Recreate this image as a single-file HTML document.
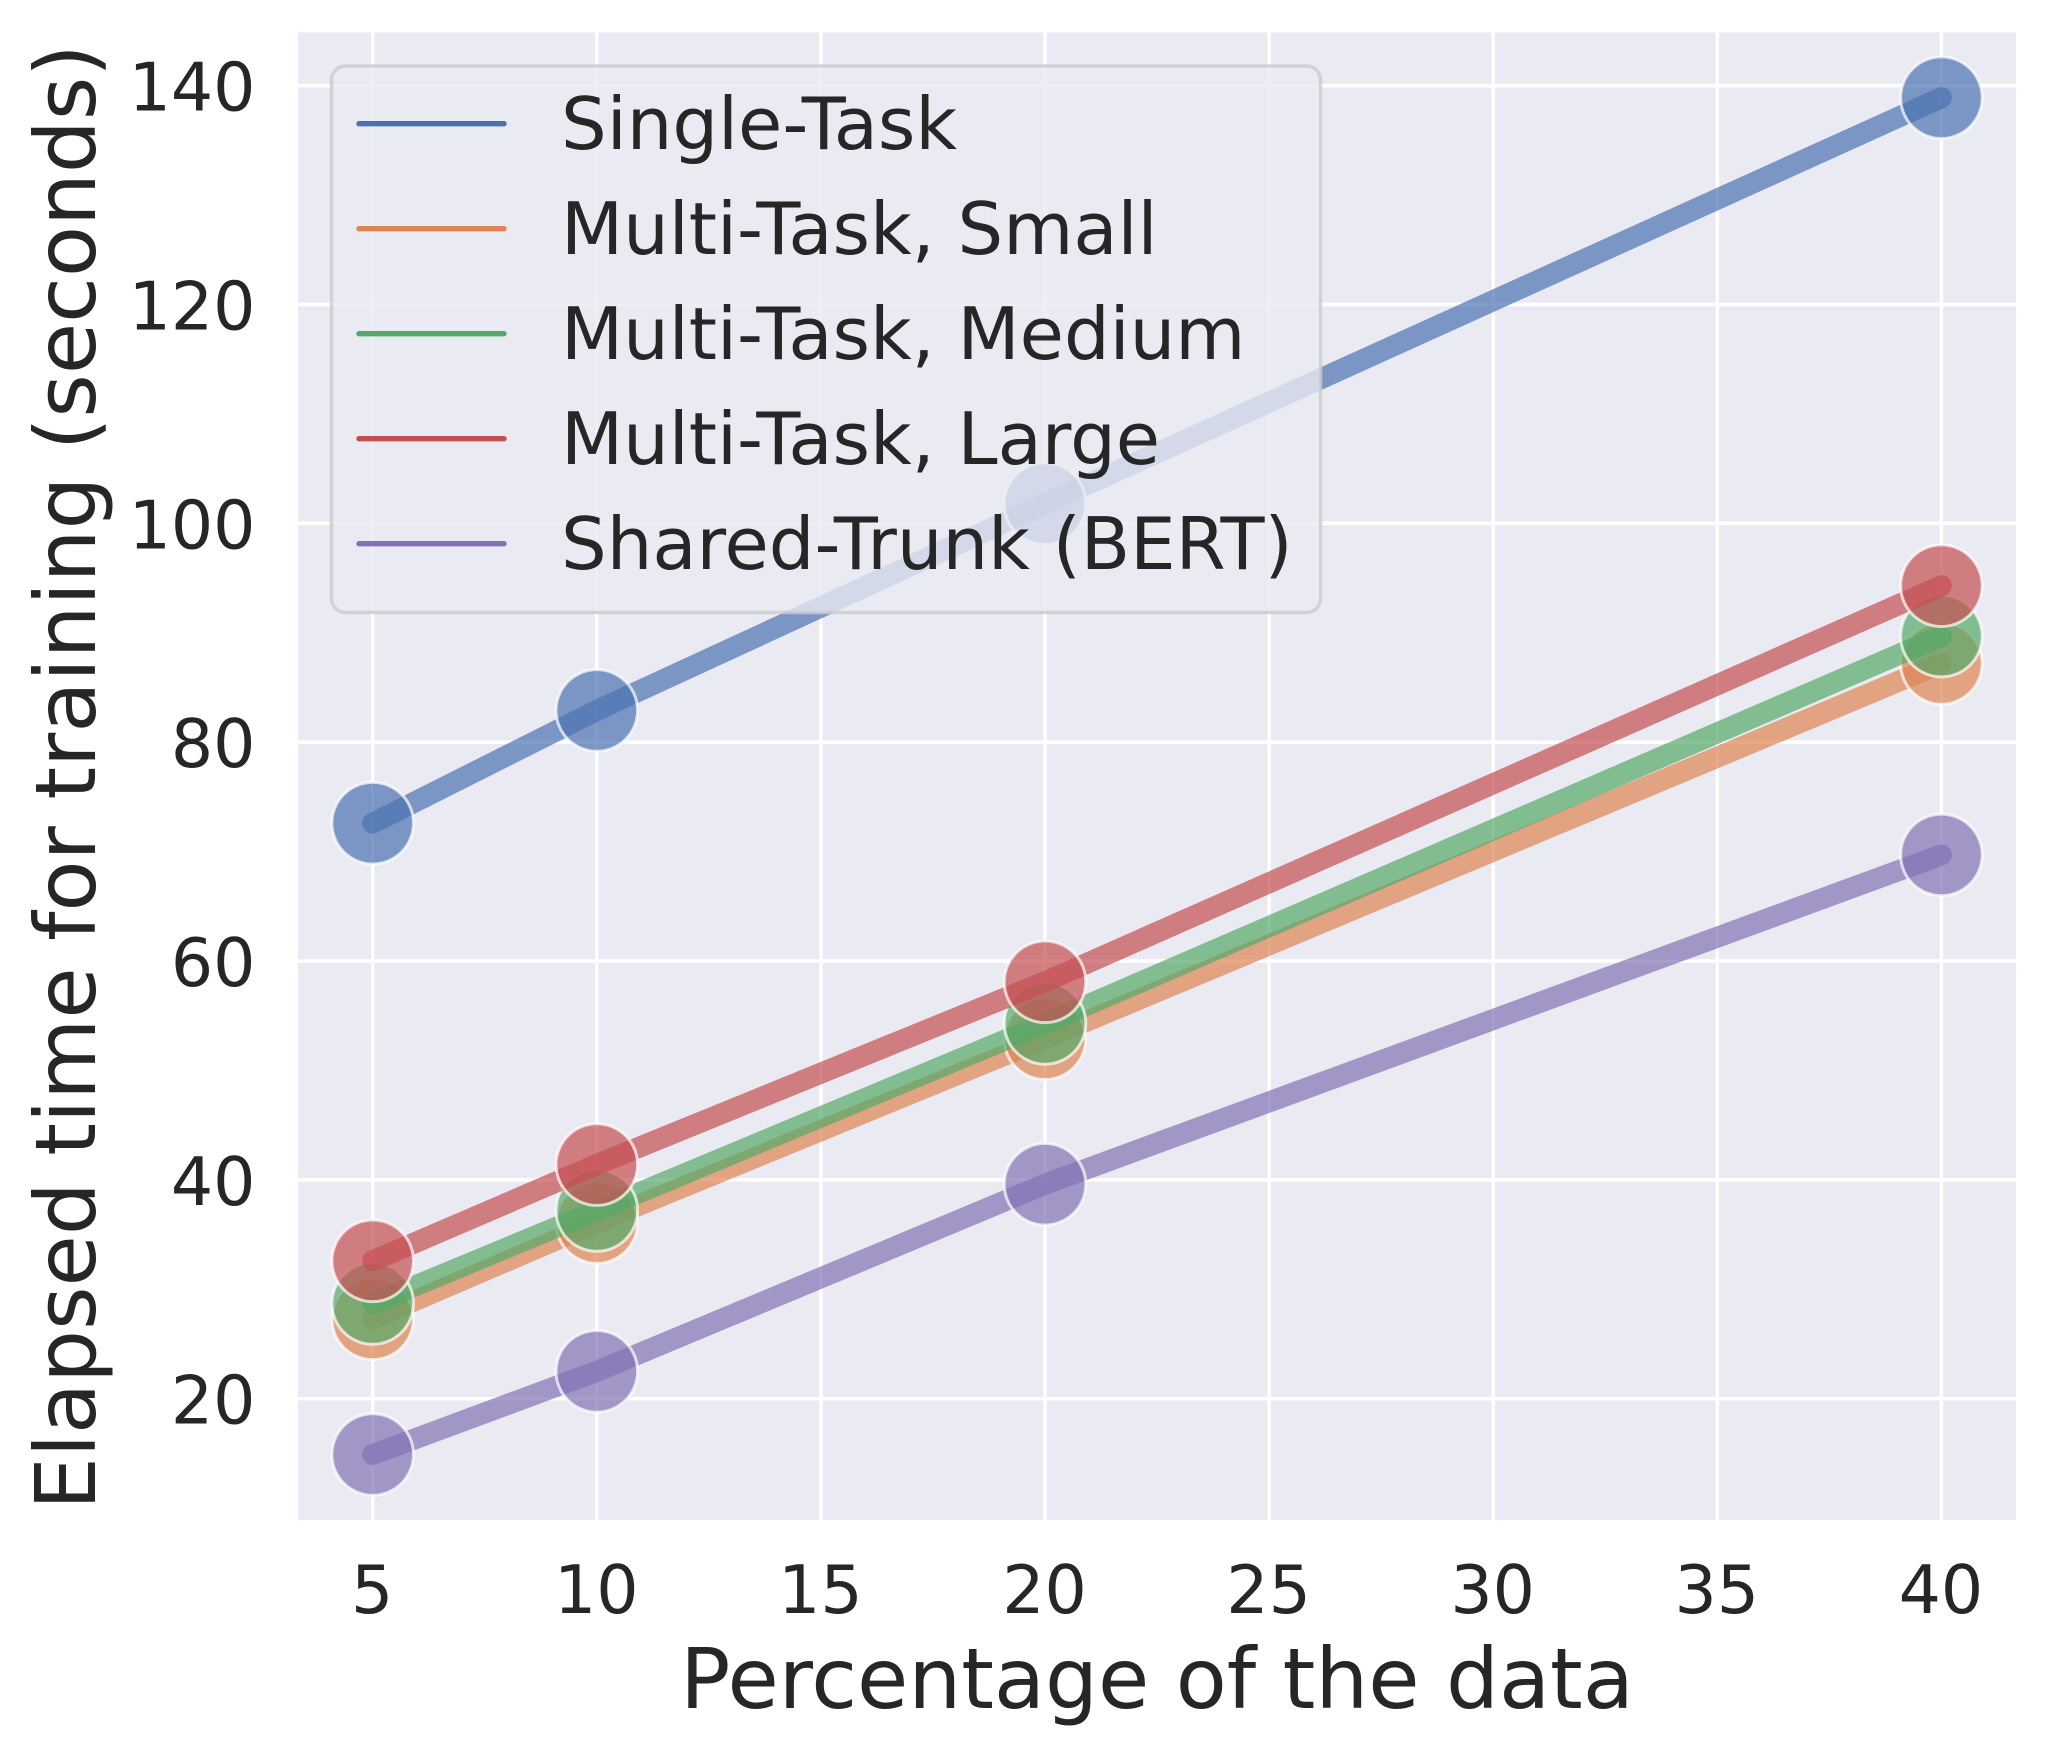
<!DOCTYPE html>
<html lang="en">
<head>
<meta charset="utf-8">
<title>Elapsed training time chart</title>
<style>
html,body{margin:0;padding:0;background:#fff;width:2048px;height:1755px;overflow:hidden}
svg{display:block}
text{font-family:"DejaVu Sans","Liberation Sans",sans-serif;fill:#262626}
</style>
</head>
<body>
<svg id="chart" xmlns="http://www.w3.org/2000/svg" width="2048" height="1755" viewBox="0 0 2048 1755">
  <rect x="0" y="0" width="2048" height="1755" fill="#ffffff"/>
  <rect x="298" y="32.5" width="1718" height="1487.5" fill="#eaeaf2"/>
  <g id="grid"></g>
  <g id="series"></g>
  <g id="xticks"></g>
  <g id="yticks"></g>
  <text x="1157" y="1708" font-size="83.4" text-anchor="middle">Percentage of the data</text>
  <text x="95" y="777" font-size="83.4" text-anchor="middle" transform="rotate(-90 95 777)">Elapsed time for training (seconds)</text>
  <g id="legend">
    <rect x="331.5" y="66" width="989" height="546.5" rx="14" ry="14" fill="#eaeaf2" fill-opacity="0.8" stroke="#cccccc" stroke-opacity="0.8" stroke-width="3.5"/>
  </g>
</svg>
<script>
const percentages = [5, 10, 20, 40];
const seriesNames = ['Single-Task', 'Multi-Task, Small', 'Multi-Task, Medium', 'Multi-Task, Large', 'Shared-Trunk (BERT)'];
const seriesColors = ['#4c72b0', '#dd8452', '#55a868', '#c44e52', '#8172b3'];
const singleTask = [72.6, 82.9, 101.8, 138.9];
const multiSmall = [27.3, 36.1, 52.9, 87.2];
const multiMedium = [28.7, 37.2, 54.3, 89.7];
const multiLarge = [32.6, 41.4, 58.1, 94.3];
const sharedTrunk = [14.9, 22.5, 39.6, 69.7];
const seriesValues = [singleTask, multiSmall, multiMedium, multiLarge, sharedTrunk];
const xTickLabels = [5, 10, 15, 20, 25, 30, 35, 40];
const yTickLabels = [20, 40, 60, 80, 100, 120, 140];

const NS = 'http://www.w3.org/2000/svg';
function xScale(v) { return 372.7 + (v - 5) * 44.82; }
function yScale(v) { return 1398.7 - (v - 20) * 10.942; }
function make(tag, attrs, parent) {
  const el = document.createElementNS(NS, tag);
  for (const k in attrs) el.setAttribute(k, attrs[k]);
  parent.appendChild(el);
  return el;
}
function slug(s) { return s.toLowerCase().replace(/[^a-z0-9]+/g, '-').replace(/-$/, ''); }

const grid = document.getElementById('grid');
const xticks = document.getElementById('xticks');
const yticks = document.getElementById('yticks');
const seriesGroup = document.getElementById('series');
const legend = document.getElementById('legend');

xTickLabels.forEach(function (t) {
  const x = xScale(t);
  const line = make('line', { x1: x, x2: x, y1: 32.5, y2: 1520, stroke: '#ffffff', 'stroke-width': 3.4 }, grid);
  
  
  const label = make('text', { x: x - 0.5, y: 1613, 'font-size': 66.5, 'text-anchor': 'middle' }, xticks);
  label.textContent = t;
  
  
});

yTickLabels.forEach(function (t) {
  const y = yScale(t);
  const line = make('line', { x1: 298, x2: 2016, y1: y, y2: y, stroke: '#ffffff', 'stroke-width': 3.6 }, grid);
  
  
  const label = make('text', { x: 255.5, y: y + 25, 'font-size': 66.5, 'text-anchor': 'end' }, yticks);
  label.textContent = t;
  
  
});

seriesNames.forEach(function (name, i) {
  const color = seriesColors[i];
  const values = seriesValues[i];
  const key = slug(name);
  const g = make('g', {}, seriesGroup);
  
  
  const pts = percentages.map(function (p, j) { return xScale(p) + ',' + yScale(values[j]); }).join(' ');
  const line = make('polyline', { points: pts, fill: 'none', stroke: color, 'stroke-opacity': 0.7, 'stroke-width': 21, 'stroke-linecap': 'round', 'stroke-linejoin': 'round' }, g);
  
  
  percentages.forEach(function (p, j) {
    const dot = make('circle', { cx: xScale(p), cy: yScale(values[j]), r: 40.8, fill: color, 'fill-opacity': 0.7, stroke: '#ffffff', 'stroke-opacity': 0.7, 'stroke-width': 3 }, g);
    
    
  });

  const rowY = 123.7 + i * 105;
  const handle = make('line', { x1: 359, x2: 504, y1: rowY, y2: rowY, stroke: color, 'stroke-width': 5.4, 'stroke-linecap': 'round' }, legend);
  
  
  const text = make('text', { x: 561, y: rowY + 25.5, 'font-size': 72 }, legend);
  text.textContent = name;
  
  
});
</script>
</body>
</html>
